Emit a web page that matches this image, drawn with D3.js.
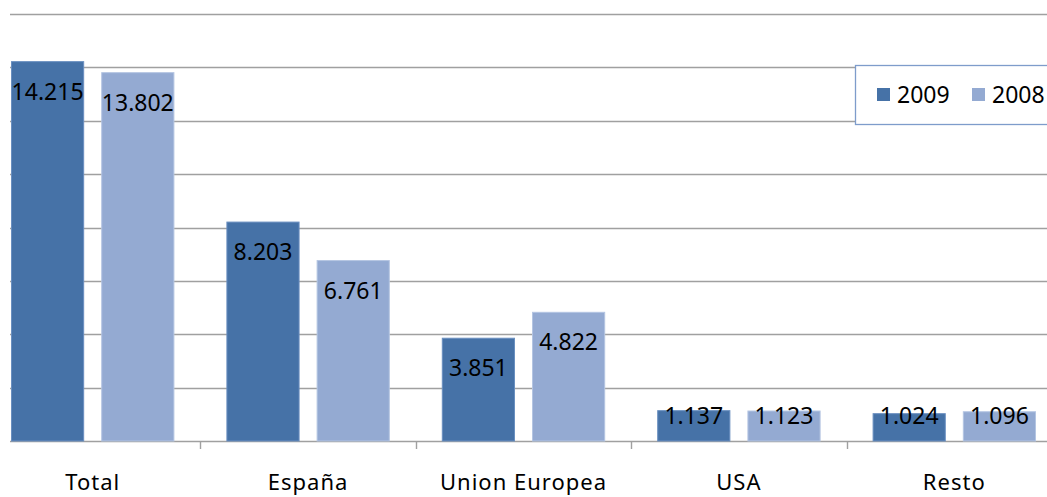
<!DOCTYPE html>
<html>
<head>
<meta charset="utf-8">
<script src="https://cdn.jsdelivr.net/npm/d3@7"></script>
<style>
  body { margin: 0; background: #fff; }
  svg { display: block; font-family: "Noto Sans", sans-serif; }
</style>
</head>
<body>
<svg id="chart" width="1047" height="497"></svg>
<script>
const categories = ['Total', 'España', 'Union Europea', 'USA', 'Resto'];
const series = ['2009', '2008'];
const values2009 = [14.215, 8.203, 3.851, 1.137, 1.024];
const values2008 = [13.802, 6.761, 4.822, 1.123, 1.096];
const labels2009 = ['14.215', '8.203', '3.851', '1.137', '1.024'];
const labels2008 = ['13.802', '6.761', '4.822', '1.123', '1.096'];
const yTicks = [0, 2, 4, 6, 8, 10, 12, 14, 16];

const colors = { '2009': '#4672a7', '2008': '#94aad2' };
const strokes = { '2009': '#6a8fc0', '2008': '#b4c5e2' };

const width = 1047, height = 497;
const baseY = 441, topY = 14;
const plotLeft = -15, plotRight = 1062;

const svg = d3.select('#chart');

const x = d3.scaleBand()
    .domain(categories)
    .range([plotLeft, plotRight])
    .paddingInner(0)
    .paddingOuter(0);

const x1 = d3.scaleBand()
    .domain(series)
    .range([26.5, x.bandwidth() - 26.5])
    .paddingInner(0.2);

const y = d3.scaleLinear()
    .domain([0, 16])
    .range([baseY, topY]);

// gridlines
svg.append('g')
    .selectAll('line')
    .data(yTicks)
    .join('line')
    .attr('x1', 10)
    .attr('x2', width)
    .attr('y1', d => Math.round(y(d)) + 0.5)
    .attr('y2', d => Math.round(y(d)) + 0.5)
    .attr('stroke', '#a0a0a0')
    .attr('stroke-width', 1.6);

// category tick marks
svg.append('g')
    .selectAll('line')
    .data(categories.slice(1))
    .join('line')
    .attr('x1', d => Math.round(x(d)) + 0.5)
    .attr('x2', d => Math.round(x(d)) + 0.5)
    .attr('y1', baseY)
    .attr('y2', baseY + 8)
    .attr('stroke', '#a0a0a0')
    .attr('stroke-width', 1.4);

const rows = categories.map((c, i) => ({
    cat: c,
    items: [
        { key: '2009', v: values2009[i], label: labels2009[i] },
        { key: '2008', v: values2008[i], label: labels2008[i] }
    ]
}));

const groups = svg.append('g')
    .selectAll('g')
    .data(rows)
    .join('g')
    .attr('transform', d => 'translate(' + x(d.cat) + ',0)');

groups.selectAll('rect')
    .data(d => d.items)
    .join('rect')
    .attr('x', d => x1(d.key))
    .attr('y', d => y(d.v))
    .attr('width', x1.bandwidth())
    .attr('height', d => baseY - y(d.v))
    .attr('fill', d => colors[d.key])
    .attr('stroke', d => strokes[d.key])
    .attr('stroke-width', 1);

groups.selectAll('text')
    .data(d => d.items)
    .join('text')
    .attr('x', d => x1(d.key) + x1.bandwidth() / 2)
    .attr('y', d => Math.min(y(d.v) + 38, 424))
    .attr('text-anchor', 'middle')
    .attr('font-size', 23)
    .attr('fill', '#000')
    .text(d => d.label);

// category labels
svg.append('g')
    .selectAll('text')
    .data(categories)
    .join('text')
    .attr('x', d => x(d) + x.bandwidth() / 2)
    .attr('y', 490)
    .attr('text-anchor', 'middle')
    .attr('font-size', 22)
    .attr('letter-spacing', 1)
    .attr('fill', '#000')
    .text(d => d);

// legend
const legend = svg.append('g');
legend.append('rect')
    .attr('x', 855.5)
    .attr('y', 65.5)
    .attr('width', 220)
    .attr('height', 59)
    .attr('fill', '#fff')
    .attr('stroke', '#7e9ccb')
    .attr('stroke-width', 1.3);

const legendX = [877, 972];
series.forEach((s, i) => {
    legend.append('rect')
        .attr('x', legendX[i])
        .attr('y', 88)
        .attr('width', 13)
        .attr('height', 13)
        .attr('fill', colors[s]);
    legend.append('text')
        .attr('x', legendX[i] + 20)
        .attr('y', 103)
        .attr('font-size', 23)
        .attr('fill', '#000')
        .text(s);
});
</script>
</body>
</html>
